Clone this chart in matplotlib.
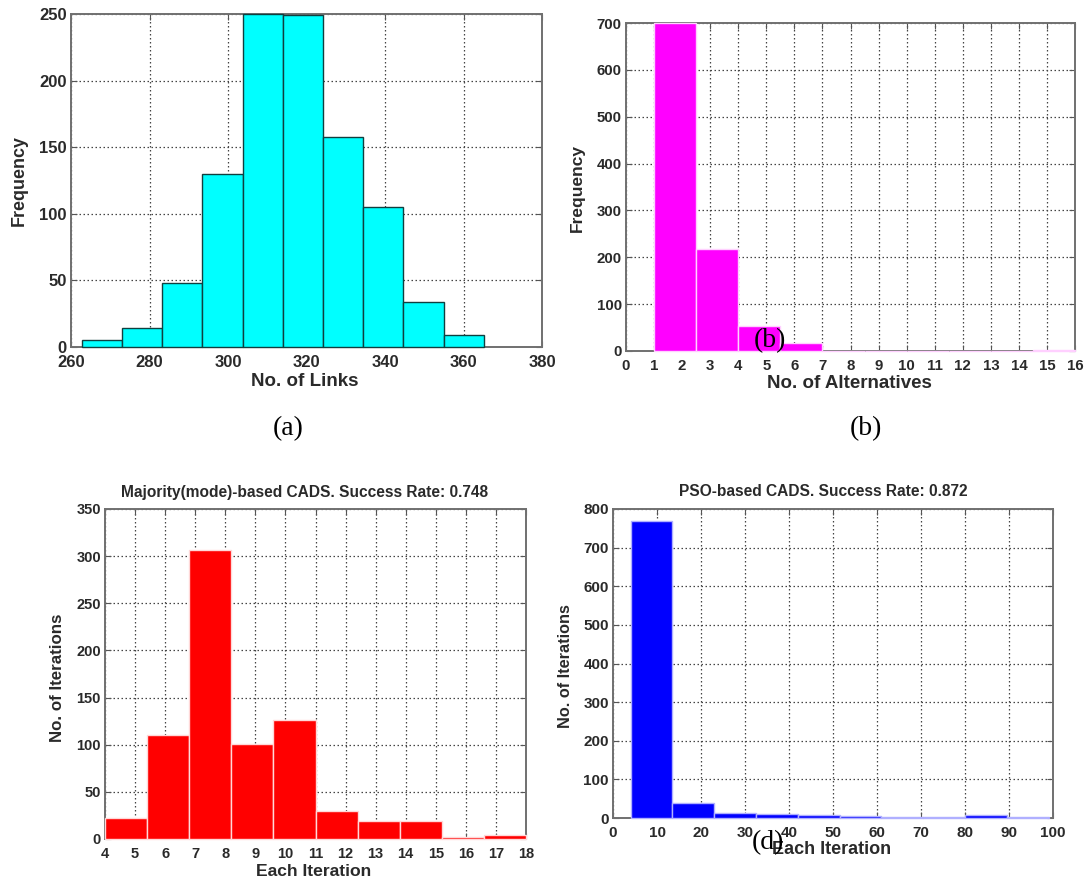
import numpy as np
import matplotlib
matplotlib.use('Agg')
import matplotlib.pyplot as plt

'''
four MATLAB style histograms: links, alternatives, and iterations for two CADS variants
'''

W, H = 1088, 882

# (a) number of links
links_edges = [262.7, 273.0, 283.2, 293.4, 303.7, 314.0, 324.2, 334.5, 344.7, 355.0, 365.2]
links_counts = [5, 14, 48, 130, 250, 249, 158, 105, 34, 9]
links_xticks = [260, 280, 300, 320, 340, 360, 380]
links_yticks = [0, 50, 100, 150, 200, 250]

# (b) number of alternatives
alt_edges = [1, 2.5, 4, 5.5, 7, 8.5, 10, 11.5, 13, 14.5, 16]
alt_counts = [700, 218, 53, 18, 0, 0, 0, 0, 0, 3]
alt_xticks = list(range(0, 17))
alt_yticks = [0, 100, 200, 300, 400, 500, 600, 700]

# (c) majority(mode)-based CADS
mode_edges = [4, 5.4, 6.8, 8.2, 9.6, 11.0, 12.4, 13.8, 15.2, 16.6, 18.0]
mode_counts = [22, 110, 307, 101, 126, 30, 19, 19, 2, 4]
mode_xticks = list(range(4, 19))
mode_yticks = [0, 50, 100, 150, 200, 250, 300, 350]

# (d) PSO-based CADS
pso_edges = [4, 13.5, 23, 32.5, 42, 51.5, 61, 70.5, 80, 89.5, 99]
pso_counts = [768, 40, 13, 10, 8, 4, 2, 2, 7, 3]
pso_xticks = [0, 10, 20, 30, 40, 50, 60, 70, 80, 90, 100]
pso_yticks = [0, 100, 200, 300, 400, 500, 600, 700, 800]

plt.rcParams['font.family'] = ['Liberation Sans', 'DejaVu Sans']
plt.rcParams['font.weight'] = 'bold'


def px_rect(l, t, r, b):
    return [l / W, 1 - b / H, (r - l) / W, (b - t) / H]


def hist_panel(fig, box, edges, counts, color, edge, xticks, yticks, xlabel, ylabel,
               xlab_px, ylab_px, tick_size, xlab_size, ylab_size, title=None, title_px=None):
    l, t, r, b = box
    ax = fig.add_axes(px_rect(l, t, r, b))
    edges = np.array(edges)
    ax.bar(edges[:-1], counts, width=np.diff(edges), align='edge', color=color,
           edgecolor=edge, linewidth=1.0, zorder=3, clip_on=False)
    ax.set_xlim(xticks[0], xticks[-1])
    ax.set_ylim(yticks[0], yticks[-1])
    ax.set_xticks(xticks)
    ax.set_yticks(yticks)
    ax.set_axisbelow(True)
    ax.grid(True, linestyle=(0, (1.2, 2.0)), color='#444444', linewidth=0.9)
    for s in ax.spines.values():
        s.set_color('#707070')
        s.set_linewidth(1.4)
    ax.tick_params(direction='in', top=True, right=True, length=4, width=0.8,
                   color='#555555', labelsize=tick_size, labelcolor='#2a2a2a')
    ax.tick_params(axis='x', pad=6)
    ax.tick_params(axis='y', pad=3)

    ax.set_xlabel(xlabel, fontsize=xlab_size, fontweight='bold', va='center', color='#2a2a2a')
    ax.xaxis.set_label_coords((xlab_px[0] - l) / (r - l), (b - xlab_px[1]) / (b - t))
    ax.set_ylabel(ylabel, fontsize=ylab_size, fontweight='bold', va='center', color='#2a2a2a')
    ax.yaxis.set_label_coords((ylab_px[0] - l) / (r - l), (b - ylab_px[1]) / (b - t))

    if title is not None:
        fig.text(title_px[0] / W, 1 - title_px[1] / H, title, ha='center', va='center',
                 fontsize=11.2, fontweight='bold', color='#2a2a2a')
    return ax


fig = plt.figure(figsize=(W / 100, H / 100), dpi=100)

hist_panel(fig, (71, 14, 542, 347), links_edges, links_counts, '#00ffff', '#104040',
           links_xticks, links_yticks, 'No. of Links', 'Frequency', (305, 382), (19, 181),
           tick_size=12, xlab_size=13.5, ylab_size=12.9)

hist_panel(fig, (626, 23, 1075, 351), alt_edges, alt_counts, '#ff00ff', '#ffd0ff',
           alt_xticks, alt_yticks, 'No. of Alternatives', 'Frequency', (849, 383), (577, 188),
           tick_size=10.8, xlab_size=13.5, ylab_size=12.5)

hist_panel(fig, (105, 509, 526, 839), mode_edges, mode_counts, '#ff0000', '#ffd8d8',
           mode_xticks, mode_yticks, 'Each Iteration', 'No. of Iterations', (314, 871), (57, 678),
           tick_size=10.5, xlab_size=12.6, ylab_size=12.2,
           title='Majority(mode)-based CADS. Success Rate: 0.748', title_px=(305, 493))

hist_panel(fig, (613, 509, 1053, 818), pso_edges, pso_counts, '#0000ff', '#b0b0ff',
           pso_xticks, pso_yticks, 'Each Iteration', 'No. of Iterations', (832, 849), (565, 666),
           tick_size=11, xlab_size=13, ylab_size=11.7,
           title='PSO-based CADS. Success Rate: 0.872', title_px=(823, 492))

# sub-figure captions, including the ones pasted over panels (b) and (d)
serif = ['Liberation Serif', 'DejaVu Serif']
for txt, x, y in [('(a)', 288, 429), ('(b)', 866, 429), ('(b)', 770, 341), ('(d)', 768, 843)]:
    fig.text(x / W, 1 - y / H, txt, ha='center', va='center', fontsize=20,
             fontweight='normal', family=serif, color='black')

fig.savefig('out.png', dpi=100)
